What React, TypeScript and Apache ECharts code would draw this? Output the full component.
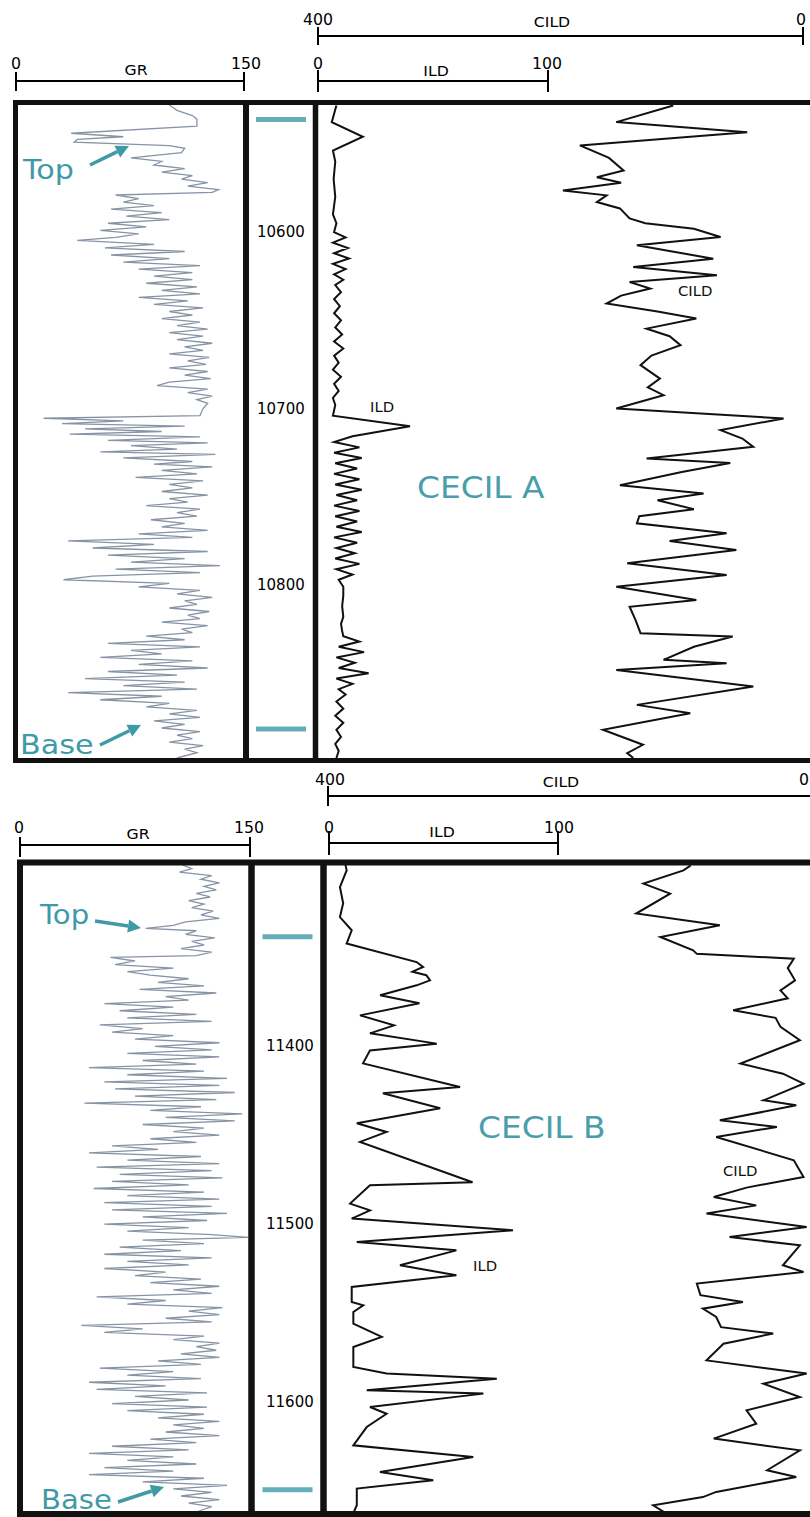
import React, { useEffect, useRef } from "react";
import * as echarts from "echarts";

const TEAL = "#3f9aa8";
const GR_COLOR = "#8794a6";

// ---------- Panel A (Cecil A) ----------
const depthRangeA = [10528, 10898];
const depthTicksA = [10600, 10700, 10800];
const markersA = [10536.2, 10881.5]; // Top, Base

// [depth, GR]
const grA: [number, number][] = [
  [10528,100],[10531,105],[10534,115],[10536,118],[10540,118],[10544,36],[10546,70],[10547.5,40],[10549,38],[10551,100],
  [10552.5,110],[10555,108],[10558,75],[10560,95],[10562,90],[10564,110],[10566,95],[10568,115],[10570,108],[10572,125],
  [10574,112],[10576,132],[10577.5,128],[10579,65],[10581,80],[10583,70],[10585,90],[10587,62],[10589,95],[10591,72],
  [10593,100],[10595,60],[10597,85],[10599,55],[10601,80],[10603,65],[10604.7,40],[10607,90],[10609,58],[10611,110],
  [10613,62],[10615,100],[10617,70],[10619,120],[10621,80],[10623,115],[10625,90],[10627,115],[10629,85],[10631,118],
  [10633,95],[10635,120],[10637,80],[10639,112],[10641,90],[10643,122],[10645,100],[10647,115],[10649,95],[10651,120],
  [10653,105],[10655,125],[10657,100],[10659,122],[10661,105],[10663,128],[10665,110],[10667,122],[10669,100],[10671,126],
  [10673,112],[10675,124],[10677,100],[10679,125],[10681,110],[10683,127],[10685,100],[10687,92],[10689,125],[10691,112],
  [10693,128],[10695,118],[10697,125],[10700,122],[10704,120],[10705.5,18],[10707,70],[10708.5,30],[10710,110],[10711.5,45],
  [10713,95],[10714.5,35],[10716,120],[10718,60],[10719.5,125],[10721,75],[10723,105],[10724.5,55],[10726,130],[10728,70],
  [10730,115],[10731.5,90],[10733,128],[10735,95],[10737,118],[10739,78],[10741,122],[10743,100],[10745,115],[10747,95],
  [10749,125],[10751,100],[10753,112],[10755,85],[10757,120],[10759,105],[10761,118],[10763,88],[10765,110],[10767,95],
  [10769,125],[10771,80],[10773,115],[10775,34],[10777,90],[10779,50],[10781,125],[10783,60],[10785,110],[10787,75],
  [10789,133],[10791,65],[10793,120],[10795,50],[10797,31],[10799,100],[10801,80],[10803,120],[10805,105],[10807,128],
  [10809,110],[10811,118],[10813,100],[10815,126],[10817,112],[10819,120],[10821,95],[10823,125],[10825,108],[10827,115],
  [10829,85],[10831,110],[10833,60],[10835,120],[10837,75],[10839,95],[10841,55],[10843,115],[10845,80],[10847,125],
  [10849,60],[10851,105],[10853,45],[10855,110],[10857,70],[10859,118],[10861,34],[10863,95],[10865,55],[10867,100],
  [10869,85],[10871,118],[10873,100],[10875,120],[10877,90],[10879,110],[10881,95],[10883,120],[10885,105],[10887,115],
  [10889,100],[10891,122],[10893,110],[10895,118],[10898,105]
];

// [depth, ILD]
const ildA: [number, number][] = [
  [10528.3,8],[10533,7],[10537.7,6],[10546,19.5],[10553.8,6.5],[10560,7.5],[10570,6.8],[10580,7.5],[10590,6.5],[10595,8],
  [10600,7],[10603,12],[10606,6.5],[10609,13],[10612,7],[10615,13.5],[10618,6.5],[10621,12],[10624,7],[10627,11],
  [10630,7.5],[10634,10],[10638,7],[10642,9.5],[10646,7],[10650,10],[10654,7.5],[10658,10.5],[10662,7],[10666,11],
  [10670,7],[10674,9],[10678,6.5],[10682,10],[10686,7],[10690,9],[10694,6.5],[10698,7.5],[10704,6.5],[10710,40],
  [10715.7,15],[10719,7],[10722,18],[10725,7],[10728,19],[10731,7.5],[10734,17],[10737,7],[10740,18],[10743,7.5],
  [10746,19],[10749,8],[10752,17],[10755,7],[10758,18],[10761,7.5],[10764,17],[10767,8],[10770,19],[10773,7],
  [10776,17],[10779,8],[10782,16],[10785,7.5],[10788,18],[10791,8],[10794,15],[10797,9],[10801,11],[10806,11],
  [10812,10.5],[10818,11],[10822,10],[10826,10.5],[10829,11],[10832,18],[10835,9],[10838,20],[10841,8],[10844,16],
  [10847,9],[10850,22],[10853,8],[10856,15],[10859,9],[10862,12],[10866,8],[10870,11],[10874,7.5],[10878,11],
  [10882,8],[10886,10],[10890,7.5],[10894,9],[10898,8]
];

// [depth, CILD]
const cildA: [number, number][] = [
  [10528.3,107],[10537.7,154],[10543.4,46],[10550.9,184],[10558,160],[10565.1,148],[10568.9,170],[10572,150],[10576.4,198],[10579.2,162],
  [10583,170],[10586.6,151],[10592.3,143],[10595,130],[10598.1,90],[10602.8,68],[10607.5,137],[10615.1,74],[10619.8,140],[10624.5,71],
  [10628.3,143],[10632,126],[10636,150],[10640.5,162],[10645,120],[10649,88],[10654.7,129],[10659,110],[10664.1,101],[10670,125],
  [10675.4,134],[10683,118],[10688,128],[10692.4,115],[10700,154],[10705.6,16],[10712.2,68],[10717,50],[10721.7,41],[10728.3,129],
  [10730.9,60],[10736,100],[10743.4,151],[10748.1,82],[10752,120],[10757,90],[10761,135],[10765,137],[10770.7,63],[10775,110],
  [10780.2,55],[10787.7,145],[10794.3,63],[10801,154],[10808.5,88],[10812.3,143],[10820,138],[10827.3,134],[10829.2,58],[10835,90],
  [10842.4,115],[10844.3,63],[10848.1,154],[10857.5,41],[10867.9,137],[10872.6,93],[10882,165],[10890.5,132],[10895.2,145],[10898,140]
];

// ---------- Panel B (Cecil B) ----------
const depthRangeB = [11298, 11662];
const depthTicksB = [11400, 11500, 11600];
const markersB = [11338.4, 11649.5]; // Top, Base

const grB: [number, number][] = [
  [11298,106],[11300,112],[11302,104],[11304,125],[11306,118],[11308,130],[11310,120],[11312,128],[11314,115],[11316,124],
  [11318,110],[11320,120],[11322,112],[11324,126],[11326,118],[11328,130],[11330,108],[11332,100],[11333.6,82],[11335,115],
  [11337,108],[11339,127],[11341,112],[11343,120],[11345,105],[11347,125],[11349,115],[11350,59],[11352,75],[11354,62],
  [11356,100],[11358,70],[11360,85],[11362,110],[11364,90],[11366,120],[11368,78],[11370,128],[11372,95],[11374,110],
  [11376,55],[11378,100],[11380,65],[11382,115],[11384,70],[11386,125],[11388,52],[11390,80],[11392,60],[11394,100],
  [11396,75],[11398,130],[11400,88],[11402,125],[11404,70],[11406,130],[11408,80],[11410,115],[11412,45],[11414,120],
  [11416,70],[11418,135],[11420,55],[11422,130],[11424,62],[11426,140],[11428,75],[11430,128],[11432,42],[11434,118],
  [11436,85],[11438,145],[11440,95],[11442,140],[11444,80],[11446,120],[11448,100],[11450,130],[11452,85],[11454,115],
  [11456,60],[11458,90],[11460,45],[11462,118],[11464,70],[11466,130],[11468,50],[11470,125],[11472,65],[11474,132],
  [11476,60],[11478,110],[11480,48],[11482,120],[11484,70],[11486,130],[11488,55],[11490,125],[11492,60],[11494,135],
  [11496,80],[11498,122],[11500,55],[11502,110],[11504,70],[11506,125],[11507.5,149],[11509,80],[11511,120],[11513,65],
  [11515,105],[11517,55],[11519,125],[11521,70],[11523,110],[11525,55],[11527,95],[11529,75],[11531,118],[11533,85],
  [11535,130],[11537,100],[11539,125],[11541,50],[11543,95],[11545,70],[11547,132],[11549,110],[11551,130],[11553,95],
  [11555,125],[11557,40],[11559,80],[11561,55],[11563,120],[11565,100],[11567,130],[11569,115],[11571,128],[11573,105],
  [11575,130],[11577,90],[11579,118],[11581,52],[11583,100],[11585,70],[11587,118],[11589,45],[11591,95],[11593,50],
  [11595,122],[11597,75],[11599,110],[11601,60],[11603,122],[11605,70],[11607,120],[11609,90],[11611,130],[11613,100],
  [11615,120],[11617,95],[11619,130],[11621,85],[11623,115],[11625,60],[11627,110],[11629,45],[11631,100],[11633,70],
  [11635,115],[11637,55],[11639,100],[11641,45],[11643,120],[11645,80],[11647,135],[11649,100],[11651,125],[11653,105],
  [11655,130],[11657,110],[11659,125],[11662,115]
];

const ildB: [number, number][] = [
  [11298,8],[11301,8.5],[11310.4,5.6],[11319.5,7],[11327.3,5.6],[11334.7,10.7],[11342.2,8.5],[11352.6,38.8],[11355.4,41.6],[11358,37],
  [11360,43],[11362.9,44.6],[11365.7,38.8],[11371.3,23],[11375.8,40],[11382.6,14.3],[11388.2,29],[11392.7,18.6],[11398.5,47.5],[11402.3,18.6],
  [11409.6,15.6],[11422.9,57.6],[11426.4,24.2],[11434.9,49],[11443.3,12.9],[11448.2,25.8],[11453.8,14.3],[11476.5,63],[11478.2,18.6],[11488.5,10],
  [11492.3,18.6],[11496.9,10.7],[11503.5,80.5],[11510.1,12.9],[11514.8,56],[11523.2,31.6],[11528.8,56],[11535.4,10.7],[11543.9,10.7],[11545.7,15.7],
  [11549.5,11.4],[11556,11.4],[11563.5,23.7],[11569.2,11.4],[11580.4,11.4],[11584.1,25.8],[11587,73.5],[11593.5,17.2],[11595.4,67.7],[11602.9,18.6],
  [11606.7,25.8],[11614.2,17.2],[11624.5,11.4],[11631.1,63.3],[11639.5,22.9],[11644.2,46],[11648.8,12.9],[11658.2,12.9],[11662.7,11.4]
];

const cildB: [number, number][] = [
  [11298.2,100],[11301,106],[11308.5,139],[11314.1,117],[11325.3,145],[11331.9,76],[11338.5,125],[11346,98],[11348,95],[11350.7,15],
  [11356,20],[11362.9,14],[11368.5,26],[11373,20],[11379.7,65],[11384,30],[11389.1,26],[11396.6,10],[11409.7,59],[11415.4,24],
  [11421,7],[11430.4,40],[11433.2,13],[11441.6,76],[11445.4,29],[11451,79],[11464.1,15],[11473.5,7],[11479.5,54],[11484.8,81],
  [11489.5,46],[11494.1,87],[11501.7,4.4],[11507.3,68],[11512,10],[11523.2,24],[11527,7],[11533.5,95],[11540,92],[11543.9,57],
  [11547.6,90],[11552.3,79],[11558,75],[11561.6,32],[11567.3,73],[11576.7,87],[11584.1,4.4],[11589.8,40],[11597.3,10],[11604.8,54],
  [11612.3,46],[11620.7,81],[11627.3,10],[11638.5,37],[11642.3,13],[11650.7,79],[11653.6,90],[11658.2,131],[11662.9,120]
];

const FONT = "DejaVu Sans";

function txt(text: string, x: number, y: number, size: number, color: string, align = "center", scaleX = 1) {
  return {
    type: "text",
    x,
    y,
    scaleX,
    z: 120,
    style: {
      text,
      fontSize: size,
      fontFamily: FONT,
      fill: color,
      align,
      textAlign: align,
      verticalAlign: "middle",
      textVerticalAlign: "middle",
    },
  };
}

function ln(x1: number, y1: number, x2: number, y2: number, w: number, color = "#111") {
  return { type: "line", z: 110, shape: { x1, y1, x2, y2 }, style: { stroke: color, lineWidth: w } };
}

function arrow(x1: number, y1: number, x2: number, y2: number) {
  const a = Math.atan2(y2 - y1, x2 - x1);
  const L = 13, W = 6.5;
  const bx = x2 - L * Math.cos(a), by = y2 - L * Math.sin(a);
  return [
    ln(x1, y1, bx, by, 3.5, TEAL),
    {
      type: "polygon",
      z: 115,
      shape: { points: [[x2, y2], [bx + W * Math.sin(a), by - W * Math.cos(a)], [bx - W * Math.sin(a), by + W * Math.cos(a)]] },
      style: { fill: TEAL },
    },
  ];
}

function scaleBar(x1: number, x2: number, y: number, t1: number, t2: number, l: string, r: string, name: string, nameX: number, labY: number, nameY: number, lx: number, rx: number) {
  return [
    ln(x1, y, x2, y, 1.8, "#000"),
    ln(x1, y - t1, x1, y + t2, 2, "#000"),
    ln(x2, y - t1, x2, y + t2, 2, "#000"),
    txt(l, lx, labY, 15, "#000", "center", 1.05),
    txt(r, rx, labY, 15, "#000", "center", 1.05),
    txt(name, nameX, nameY, 14.5, "#000", "center", 1.08),
  ];
}

const toPts = (arr: [number, number][]) => arr.map(([d, v]) => [v, d]);

export default function App() {
  const ref = useRef<HTMLDivElement>(null);
  useEffect(() => {
    const chart = echarts.init(ref.current!, null, { renderer: "svg" });
    const hiddenY = (grid: number, range: number[]) => ({
      gridIndex: grid, type: "value", min: range[0], max: range[1], inverse: true, show: false,
    });
    const labelY = (grid: number, range: number[], ticks: number[], margin: number) => ({
      gridIndex: grid, type: "value", min: range[0], max: range[1], inverse: true, position: "left",
      axisLine: { show: false }, axisTick: { show: false }, splitLine: { show: false },
      axisLabel: {
        inside: true, margin, customValues: ticks, fontSize: 15, fontFamily: FONT, color: "#000",
        formatter: (v: number) => String(v),
      },
    });
    const hx = (grid: number, min: number, max: number, inverse = false, position = "bottom") => ({
      gridIndex: grid, type: "value", min, max, inverse, show: false, position,
    });
    const curve = (data: [number, number][], xi: number, yi: number, color: string, width: number) => ({
      type: "line", xAxisIndex: xi, yAxisIndex: yi, data: toPts(data), symbol: "none", silent: true,
      clip: true, lineStyle: { color, width, join: "miter" }, z: 5,
    });
    const marker = (depths: number[], xi: number, yi: number) => ({
      type: "scatter", xAxisIndex: xi, yAxisIndex: yi, data: depths.map((d) => [0.5, d]), symbol: "rect",
      symbolSize: [50, 5], itemStyle: { color: TEAL }, silent: true,
    });

    const graphic: any[] = [
      // frames A
      { type: "rect", z: 110, shape: { x: 15.5, y: 102.5, width: 900, height: 658 }, style: { fill: "none", stroke: "#111", lineWidth: 5 } },
      ln(246, 100, 246, 763, 6),
      ln(315.5, 100, 315.5, 763, 5.5),
      // frames B
      { type: "rect", z: 110, shape: { x: 20, y: 862.5, width: 900, height: 651.5 }, style: { fill: "none", stroke: "#111", lineWidth: 6 } },
      ln(251.5, 860, 251.5, 1517, 6.5),
      ln(323.5, 860, 323.5, 1517, 6.5),
      // headers A
      ...scaleBar(318, 803, 36, 9, 9, "400", "0", "CILD", 552, 20, 22, 318, 801),
      ...scaleBar(16, 244, 81, 9, 10, "0", "150", "GR", 136, 64, 70, 16, 246),
      ...scaleBar(318, 548, 81, 11, 11, "0", "100", "ILD", 436, 64, 71, 318, 547),
      // headers B
      ...scaleBar(328, 812, 796, 10, 10, "400", "0", "CILD", 561, 780, 782, 330, 804),
      ...scaleBar(20, 250, 845, 8, 12, "0", "150", "GR", 138, 828, 834, 19, 249),
      ...scaleBar(329, 558, 843, 12, 12, "0", "100", "ILD", 442, 828, 832, 329, 559),
      // annotations A
      txt("Top", 23, 170, 27, TEAL, "left", 1.12),
      ...arrow(90, 165, 129, 146),
      txt("Base", 20, 745, 27, TEAL, "left", 1.12),
      ...arrow(100, 745, 141, 725),
      txt("CECIL A", 417, 487, 31, "#4a9eab", "left", 1.06),
      txt("ILD", 370, 407.5, 13.5, "#111", "left", 1.1),
      txt("CILD", 678, 291, 13.5, "#111", "left", 1.1),
      // annotations B
      txt("Top", 40, 914.5, 27, TEAL, "left", 1.08),
      ...arrow(95, 921, 141, 928),
      txt("Base", 41, 1500, 26, TEAL, "left", 1.12),
      ...arrow(118, 1502, 164, 1487),
      txt("CECIL B", 478, 1127, 31, "#4a9eab", "left", 1.06),
      txt("ILD", 473, 1266, 13.5, "#111", "left", 1.1),
      txt("CILD", 723, 1171, 13.5, "#111", "left", 1.1),
    ];

    chart.setOption({
      animation: false,
      backgroundColor: "#fff",
      grid: [
        { left: 16, top: 105, width: 230, height: 653 },
        { left: 249, top: 105, width: 64, height: 653 },
        { left: 318, top: 105, width: 492, height: 653 },
        { left: 20, top: 865, width: 230, height: 647 },
        { left: 255, top: 865, width: 65, height: 647 },
        { left: 327, top: 865, width: 483, height: 647 },
      ],
      xAxis: [
        hx(0, 0, 150),
        hx(1, 0, 1),
        hx(2, 0, 492 / 2.3),
        hx(2, 400 - 492 / 1.2125, 400, true, "top"),
        hx(3, 0, 150),
        hx(4, 0, 1),
        hx(5, 0, 483 / 2.31),
        hx(5, 400 - 483 / 1.2125, 400, true, "top"),
      ],
      yAxis: [
        hiddenY(0, depthRangeA),
        labelY(1, depthRangeA, depthTicksA, 8),
        hiddenY(2, depthRangeA),
        hiddenY(3, depthRangeB),
        labelY(4, depthRangeB, depthTicksB, 11),
        hiddenY(5, depthRangeB),
      ],
      series: [
        curve(grA, 0, 0, GR_COLOR, 1.3),
        marker(markersA, 1, 1),
        curve(ildA, 2, 2, "#111", 2),
        curve(cildA, 3, 2, "#111", 2),
        curve(grB, 4, 3, GR_COLOR, 1.3),
        marker(markersB, 5, 4),
        curve(ildB, 6, 5, "#111", 2),
        curve(cildB, 7, 5, "#111", 2),
      ],
      graphic,
    });
    return () => chart.dispose();
  }, []);
  return <div ref={ref} style={{ position: "absolute", left: 0, top: 0, width: 810, height: 1517 }} />;
}
